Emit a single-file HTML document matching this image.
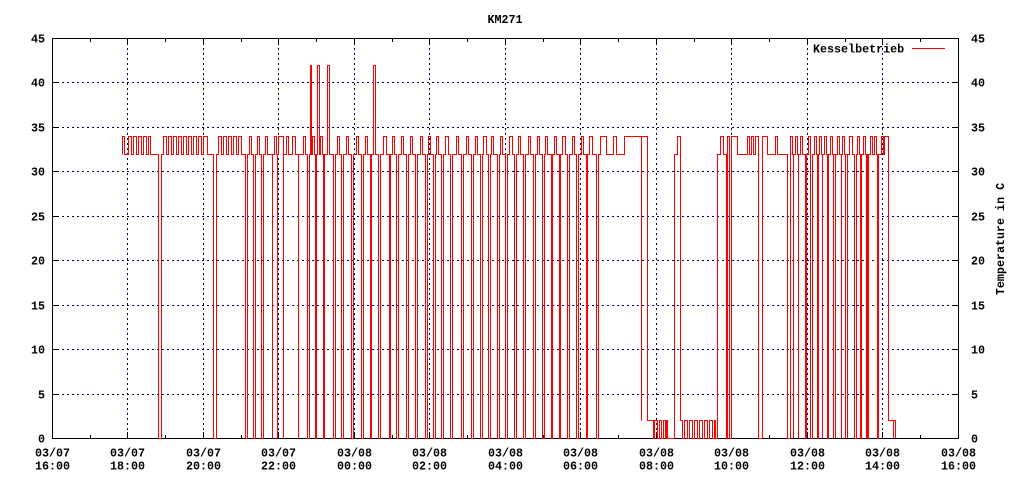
<!DOCTYPE html>
<html><head><meta charset="utf-8"><style>
html,body{margin:0;padding:0;background:#fff;}
svg{display:block;}
text{font-family:"Liberation Mono",monospace;font-weight:bold;font-size:11.7px;fill:#000;}
</style></head><body>
<svg width="1024" height="480" viewBox="0 0 1024 480" xmlns="http://www.w3.org/2000/svg">
<rect width="1024" height="480" fill="#fff"/>
<g stroke="#000040" stroke-width="1" stroke-dasharray="2,3" shape-rendering="crispEdges">
<path d="M52,82.5H958M52,127.5H958M52,171.5H958M52,216.5H958M52,260.5H958M52,305.5H958M52,349.5H958M52,394.5H958"/>
<path d="M127.5,38V438M203.5,38V438M278.5,38V438M354.5,38V438M429.5,38V438M505.5,38V438M580.5,38V438M656.5,38V438M731.5,38V438M807.5,38V438M882.5,38V438"/>
</g>
<g stroke="#000" stroke-width="1" shape-rendering="crispEdges" fill="none">
<rect x="52.5" y="38.5" width="906" height="400"/>
<path d="M127.5,438V432M203.5,438V432M278.5,438V432M354.5,438V432M429.5,438V432M505.5,438V432M580.5,438V432M656.5,438V432M731.5,438V432M807.5,438V432M882.5,438V432
M127.5,39V45M203.5,39V45M278.5,39V45M354.5,39V45M429.5,39V45M505.5,39V45M580.5,39V45M656.5,39V45M731.5,39V45M807.5,39V45M882.5,39V45
M90.5,438V435M165.5,438V435M241.5,438V435M316.5,438V435M392.5,438V435M467.5,438V435M543.5,438V435M618.5,438V435M694.5,438V435M769.5,438V435M845.5,438V435M920.5,438V435
M90.5,39V42M165.5,39V42M241.5,39V42M316.5,39V42M392.5,39V42M467.5,39V42M543.5,39V42M618.5,39V42M694.5,39V42M769.5,39V42M845.5,39V42M920.5,39V42
M53,82.5H59M53,127.5H59M53,171.5H59M53,216.5H59M53,260.5H59M53,305.5H59M53,349.5H59M53,394.5H59
M958,82.5H952M958,127.5H952M958,171.5H952M958,216.5H952M958,260.5H952M958,305.5H952M958,349.5H952M958,394.5H952"/>
</g>
<path transform="translate(0.5,0.5)" fill="none" stroke="#ff0000" stroke-width="1" shape-rendering="crispEdges" d="M122,154 V136 H124 V154 H128 V136 H131 V154 H133 V136 H136 V154 H138 V136 H141 V154 H143 V136 H146 V154 H148 V136 H150 V154 H158 V438 H161 V154 H163 V136 H166 V154 H168 V136 H171 V154 H173 V136 H176 V154 H178 V136 H181 V154 H183 V136 H186 V154 H188 V136 H191 V154 H193 V136 H196 V154 H198 V136 H201 V154 H203 V136 H207 V154 H213 V438 H216 V154 H218 V136 H221 V154 H223 V136 H226 V154 H228 V136 H231 V154 H233 V136 H236 V154 H238 V136 H241 V154 H245 V438 H247 V154 H249 V136 H251 V154 H253 V438 H255 V154 H257 V136 H259 V154 H261 V438 H263 V154 H265 V136 H267 V154 H272 V438 V154 H274 V136 H276 V154 H277 V438 V154 H278 V136 H283 V438 V154
H286 V136 H288 V154 H292 V136 H295 V154 H298 V438 V154 H303 V136 H305 V154 H307 V438 H309 V154 H310 V65 H311 V154 H312 V136 H314 V154 H315 V438 H316 V154 H317 V65 H319 V154 H320 V136 H322 V154 H323 V438 H324 V154 H327 V65 H329 V154 H333 V438 H335 V154 H337 V136 H339 V154 H341 V438 H343 V154 H346 V136 H348 V154 H351 V438 H353 V154 H356 V136 H358 V154 H361 V438 H363 V154 H365 V136 H367 V154 H370 V438 H371 V154 H373 V65 H375 V154 H378 V438 H380 V154 H383 V136 H386 V154 H389 V438 H390 V154 H392 V136 H394 V154 H396 V438 H398 V154 H401 V136 H403 V154 H406 V438 H408 V154 H410 V136 H412 V154 H415 V438 H417 V154 H420 V136 H422 V154 H425 V438 H427 V154 H428 V136 H430 V154 H433 V438 H435 V154 H436 V136 H438 V154 H441 V438 H443 V154 H445 V136 H448 V154 H450 V438 H452 V154 H456 V136 H458 V154 H461 V438 H463 V154 H466 V136 H468 V154 H471 V438 H473 V154 H475 V136 H477 V154 H480 V438 H482 V154 H483 V136 H486 V154 H488 V438 H490 V154 H491 V136 H493 V154 H497 V438 H499 V154 H500 V136 H502 V154 H505 V438 H507 V154 H509 V136 H512 V154 H514 V438 H516 V154 H518 V136 H520 V154 H523 V438 H525 V154 H528 V136 H530 V154 H533 V438 H535 V154 H537 V136 H539 V154 H542 V438 H544 V154 H545 V136 H547 V154 H551 V438 H552 V154 H554 V136 H556 V154 H559 V438 H560 V154 H562 V136 H565 V154 H567 V438 H569 V154 H572 V136 H574 V154 H576 V438 H578 V154 H581 V136 H583 V154 H586 V438 H587 V154 H589 V136 H592 V154 H596 V438 H598 V154 H600 V136 H606 V154 H613 V136 H616 V154 H624 V136
H641 V420 V136 H647 V420 H653 V438 H654 V420 H657 V438 H659 V420 H661 V438 H663 V420 H665 V438 H666 V420 H667 V438 H674 V154 H677 V136 H680 V420 H682 V438 H684 V420 H687 V438 H689 V420 H692 V438 H694 V420 H697 V438 H699 V420 H702 V438 H704 V420 H707 V438 H709 V420 H712 V438 H714 V420 H715 V438 H717 V154 H720 V136 H723 V154 H726 V438 H727 V136 H729 V438 H731 V136 H737 V154 H747 V136 H749 V154 H751 V136 H753 V154 H755 V136 H758 V438 H762 V136 H767 V154 H775 V136 H777 V154 H787 V438 H790 V136 H792 V154 H793 V438 V154 H795 V136 H797 V154 H798 V438 V154 H800 V136 H802 V154 H805 V438 H806 V154 H808 V136 H810 V438 H812 V154 H814 V136 H816 V154 H817 V438 H818 V154 H819 V136 H821 V154 H822 V438 V154 H824 V136 H826 V154 H827 V438 H828 V154 H830 V136 H832 V154 H833 V438 V154 H835 V438 V154 H837 V136 H839 V154 H841 V438 V154 H842 V136 H844 V154 H845 V438 V154 H847 V438 V154 H849 V136 H852 V154 H854 V438 H856 V154 H857 V136 H859 V154 H860 V438 H861 V154 H863 V136 H865 V154 H866 V438 V154 H867 V438 H868 V154 H870 V136 H872 V154 H874 V136 H876 V154 H877 V438 H878 V154 H881 V136 H883 V154 H884 V136 H888 V420 H893 V438 V420 H895 V438"/>
<path d="M912,48.5H945" stroke="#ff0000" stroke-width="1" shape-rendering="crispEdges"/>
<text x="505" y="23" text-anchor="middle">KM271</text>
<text x="813" y="52.5">Kesselbetrieb</text>
<g text-anchor="end">
<text x="45" y="42.5">45</text>
<text x="45" y="86.5">40</text>
<text x="45" y="131.5">35</text>
<text x="45" y="175.5">30</text>
<text x="45" y="220.5">25</text>
<text x="45" y="264.5">20</text>
<text x="45" y="309.5">15</text>
<text x="45" y="353.5">10</text>
<text x="45" y="398.5">5</text>
<text x="45" y="442.5">0</text>
</g>
<g>
<text x="971" y="42.5">45</text>
<text x="971" y="86.5">40</text>
<text x="971" y="131.5">35</text>
<text x="971" y="175.5">30</text>
<text x="971" y="220.5">25</text>
<text x="971" y="264.5">20</text>
<text x="971" y="309.5">15</text>
<text x="971" y="353.5">10</text>
<text x="971" y="398.5">5</text>
<text x="971" y="442.5">0</text>
</g>
<text transform="translate(1004,239) rotate(-90)" text-anchor="middle">Temperature in C</text>
<g text-anchor="middle">
<text x="52.5" y="456.5">03/07</text><text x="52.5" y="469.5">16:00</text>
<text x="127.5" y="456.5">03/07</text><text x="127.5" y="469.5">18:00</text>
<text x="203.5" y="456.5">03/07</text><text x="203.5" y="469.5">20:00</text>
<text x="278.5" y="456.5">03/07</text><text x="278.5" y="469.5">22:00</text>
<text x="354.5" y="456.5">03/08</text><text x="354.5" y="469.5">00:00</text>
<text x="429.5" y="456.5">03/08</text><text x="429.5" y="469.5">02:00</text>
<text x="505.5" y="456.5">03/08</text><text x="505.5" y="469.5">04:00</text>
<text x="580.5" y="456.5">03/08</text><text x="580.5" y="469.5">06:00</text>
<text x="656.5" y="456.5">03/08</text><text x="656.5" y="469.5">08:00</text>
<text x="731.5" y="456.5">03/08</text><text x="731.5" y="469.5">10:00</text>
<text x="807.5" y="456.5">03/08</text><text x="807.5" y="469.5">12:00</text>
<text x="882.5" y="456.5">03/08</text><text x="882.5" y="469.5">14:00</text>
<text x="958.5" y="456.5">03/08</text><text x="958.5" y="469.5">16:00</text>
</g>
</svg>
</body></html>
